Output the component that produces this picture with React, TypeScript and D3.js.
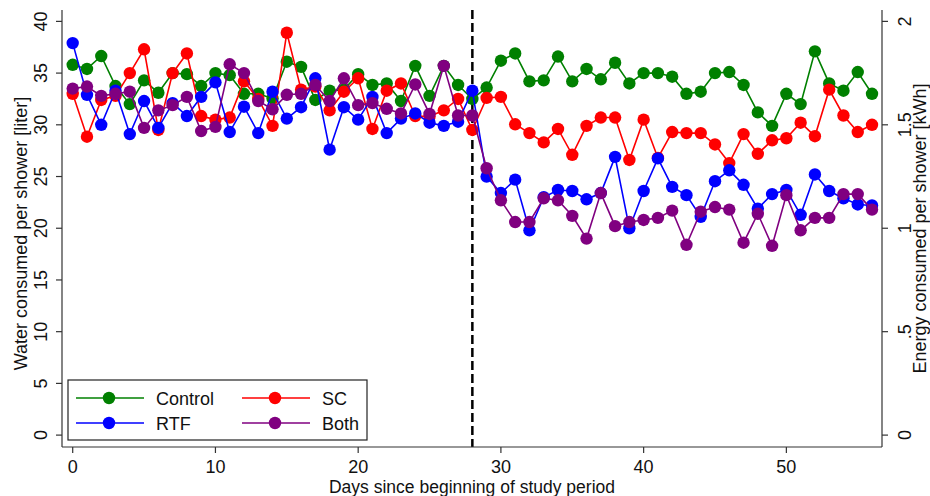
import React from "react";
import * as d3 from "d3";

// daily mean water use per shower, liters (day 0..56)
const control = [
  35.8, 35.4, 36.65, 33.75, 32.0, 34.3, 33.1, 35.0, 34.9, 33.75, 35.0, 34.8, 33.0, 33.0, 32.55,
  36.1, 35.6, 32.4, 33.3, 33.4, 34.9, 33.85, 34.0, 32.3, 35.7, 32.8, 35.7, 33.85, 32.5, 33.6,
  36.2, 36.9, 34.2, 34.3, 36.6, 34.2, 35.4, 34.4, 36.0, 34.0, 35.0, 35.0, 34.65, 33.0, 33.2,
  35.0, 35.1, 33.85, 31.2, 29.9, 33.0, 32.0, 37.1, 34.0, 33.3, 35.1, 33.0,
];
const sc = [
  33.0, 28.85, 32.4, 32.8, 35.0, 37.3, 29.5, 35.0, 36.9, 30.85, 30.5, 30.7, 34.2, 32.5, 29.9,
  38.9, 33.4, 33.7, 31.4, 33.2, 34.5, 29.6, 33.3, 34.0, 30.85, 30.8, 31.4, 32.5, 29.5, 32.6,
  32.7, 30.05, 29.2, 28.3, 29.6, 27.1, 29.9, 30.7, 30.7, 26.6, 30.5, 26.8, 29.3, 29.2, 29.2,
  28.1, 26.3, 29.1, 27.2, 28.5, 28.7, 30.2, 28.9, 33.4, 30.9, 29.3, 30.0,
];
const rtf = [
  37.9, 32.9, 30.0, 33.3, 29.1, 32.3, 29.7, 32.1, 30.85, 32.7, 34.1, 29.3, 31.75, 29.2, 33.2,
  30.6, 31.7, 34.5, 27.6, 31.7, 30.5, 32.7, 29.2, 30.6, 31.1, 30.2, 29.9, 30.3, 33.3, 25.0,
  23.4, 24.7, 19.8, 23.0, 23.7, 23.6, 22.8, 23.4, 26.9, 20.0, 23.6, 26.75, 24.0, 23.2, 21.1,
  24.55, 25.6, 24.2, 21.9, 23.3, 23.7, 21.3, 25.2, 23.6, 22.9, 22.3, 22.2,
];
const both = [
  33.5, 33.7, 32.8, 33.0, 33.2, 29.7, 31.4, 31.9, 32.7, 29.4, 29.8, 35.85, 35.0, 32.3, 31.5,
  32.9, 33.0, 33.85, 32.3, 34.5, 31.9, 32.1, 31.55, 31.1, 33.9, 31.05, 35.7, 30.9, 30.9, 25.8,
  22.7, 20.6, 20.6, 22.9, 22.7, 21.2, 19.0, 23.4, 20.2, 20.6, 20.8, 21.0, 21.7, 18.4, 21.6,
  22.05, 21.8, 18.6, 21.4, 18.3, 23.2, 19.8, 21.0, 21.0, 23.3, 23.3, 21.8,
];

const xTicks = [0, 10, 20, 30, 40, 50];
const literTicks = [0, 5, 10, 15, 20, 25, 30, 35, 40];
const kwhTicks = [0, 0.5, 1, 1.5, 2];
const kwhLabels = ["0", ".5", "1", "1.5", "2"];
const interventionDay = 28;

const series = [
  { name: "Control", color: "#008000", values: control },
  { name: "SC", color: "#ff0000", values: sc },
  { name: "RTF", color: "#0000ff", values: rtf },
  { name: "Both", color: "#800080", values: both },
];

const font = "'Liberation Sans', Arial, Helvetica, sans-serif";

export default function App() {
  const width = 930;
  const height = 496;

  const x = d3.scaleLinear().domain([-0.75, 56.7]).range([62, 882]);
  const y = d3.scaleLinear().domain([-1.15, 41.1]).range([447, 10]);
  // energy axis: 1 kWh per 20 liters
  const yKwh = d3.scaleLinear().domain([-1.15 / 20, 41.1 / 20]).range([447, 10]);

  const line = d3
    .line<number>()
    .x((_, i) => x(i))
    .y((d) => y(d));

  const [x0, x1] = x.range();
  const [yBottom, yTop] = y.range();

  // legend layout: two columns, two rows
  const legendRows = [
    [series[0], series[1]],
    [series[2], series[3]],
  ];

  return (
    <svg
      width={width}
      height={height}
      style={{ position: "fixed", left: 0, top: 0, background: "#fff" }}
      fontFamily={font}
    >
      <rect x={0} y={0} width={width} height={height} fill="#fff" />

      {/* intervention marker */}
      <line
        x1={x(interventionDay)}
        x2={x(interventionDay)}
        y1={yTop}
        y2={yBottom}
        stroke="#000"
        strokeWidth={2.5}
        strokeDasharray="9,4"
      />

      {/* series */}
      {series.map((s) => (
        <g key={s.name}>
          <path d={line(s.values) || ""} fill="none" stroke={s.color} strokeWidth={1.6} />
          {s.values.map((v, i) => (
            <circle key={i} cx={x(i)} cy={y(v)} r={6.2} fill={s.color} />
          ))}
        </g>
      ))}

      {/* axes */}
      <g stroke="#333" strokeWidth={1.2}>
        <line x1={x0} x2={x1} y1={yBottom} y2={yBottom} />
        <line x1={x0} x2={x0} y1={yTop} y2={yBottom} />
        <line x1={x1} x2={x1} y1={yTop} y2={yBottom} />
        {xTicks.map((t) => (
          <line key={t} x1={x(t)} x2={x(t)} y1={yBottom} y2={yBottom + 6} />
        ))}
        {literTicks.map((t) => (
          <line key={t} x1={x0 - 6} x2={x0} y1={y(t)} y2={y(t)} />
        ))}
        {kwhTicks.map((t) => (
          <line key={t} x1={x1} x2={x1 + 6} y1={yKwh(t)} y2={yKwh(t)} />
        ))}
      </g>

      {xTicks.map((t) => (
        <text key={t} x={x(t)} y={473} textAnchor="middle" fontSize={18} fill="#111">
          {t}
        </text>
      ))}
      {literTicks.map((t) => (
        <text
          key={t}
          transform={`translate(47,${y(t)}) rotate(-90)`}
          textAnchor="middle"
          fontSize={18}
          fill="#111"
        >
          {t}
        </text>
      ))}
      {kwhTicks.map((t, i) => (
        <text
          key={t}
          transform={`translate(911,${yKwh(t)}) rotate(-90)`}
          textAnchor="middle"
          fontSize={18}
          fill="#111"
        >
          {kwhLabels[i]}
        </text>
      ))}

      <text x={(x0 + x1) / 2} y={493} textAnchor="middle" fontSize={17.5} fill="#111">
        Days since beginning of study period
      </text>
      <text
        transform={`translate(27,${(yTop + yBottom) / 2 + 5}) rotate(-90)`}
        textAnchor="middle"
        fontSize={18}
        fill="#111"
      >
        Water consumed per shower [liter]
      </text>
      <text
        transform={`translate(926,${(yTop + yBottom) / 2}) rotate(-90)`}
        textAnchor="middle"
        fontSize={18}
        fill="#111"
      >
        Energy consumed per shower [kWh]
      </text>

      {/* legend */}
      <g transform="translate(68,380)">
        <rect x={0} y={0} width={299} height={60} fill="#fff" stroke="#222" strokeWidth={1.2} />
        {legendRows.map((row, r) =>
          row.map((s, c) => {
            const cx = 8 + c * 166;
            const cy = 18 + r * 25;
            return (
              <g key={s.name} transform={`translate(${cx},${cy})`}>
                <line x1={0} x2={68} y1={0} y2={0} stroke={s.color} strokeWidth={1.6} />
                <circle cx={33} cy={0} r={6.2} fill={s.color} />
                <text x={80} y={6.5} fontSize={18} fill="#111">
                  {s.name}
                </text>
              </g>
            );
          })
        )}
      </g>
    </svg>
  );
}
